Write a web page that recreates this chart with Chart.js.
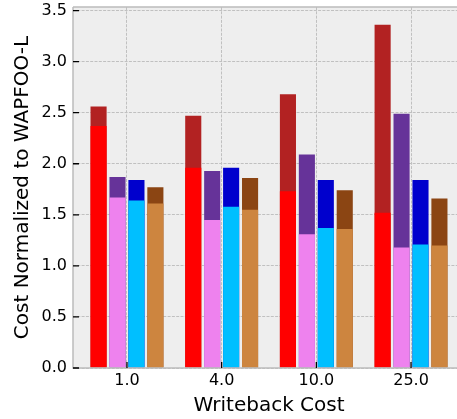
<!DOCTYPE html>
<html lang="en">
<head>
    <meta charset="UTF-8">
    <title>Writeback Cost</title>
    <script src="https://cdn.jsdelivr.net/npm/chart.js"></script>
    <style>
        body { margin: 0; background: #ffffff; }
        #wrap { width: 457px; height: 419px; overflow: hidden; }
    </style>
</head>
<body>
    <div id="wrap">
        <canvas id="costChart" width="465" height="419"></canvas>
    </div>

    <script>
    // Writeback cost categories (x tick labels)
    const xLabels = ['1.0', '4.0', '10.0', '25.0'];
    const yTicks = [0, 0.5, 1.0, 1.5, 2.0, 2.5, 3.0, 3.5];

    // tall (dark) bars and the lighter bar drawn in front of each
    const s1High = [2.56, 2.47, 2.68, 3.36];
    const s1Low  = [2.37, 1.96, 1.73, 1.52];
    const s2High = [1.87, 1.93, 2.09, 2.49];
    const s2Low  = [1.67, 1.45, 1.31, 1.18];
    const s3High = [1.84, 1.96, 1.84, 1.84];
    const s3Low  = [1.64, 1.58, 1.37, 1.21];
    const s4High = [1.77, 1.86, 1.74, 1.66];
    const s4Low  = [1.61, 1.55, 1.36, 1.20];

    const font = 'DejaVu Sans';

    function pts(vals) {
        return vals.map((v, i) => ({ x: i, y: v }));
    }

    function ds(vals, color, stack, order) {
        return {
            data: pts(vals),
            backgroundColor: color,
            borderWidth: 0,
            inflateAmount: 0,
            stack: stack,
            order: order,
            categoryPercentage: 0.8,
            barPercentage: 0.85
        };
    }

    // axes background, spines and inward tick marks
    const axesDecor = {
        id: 'axesDecor',
        beforeDraw(chart) {
            const { ctx, chartArea: a } = chart;
            ctx.save();
            ctx.fillStyle = '#eeeeee';
            ctx.fillRect(a.left, a.top, a.right - a.left, a.bottom - a.top);
            ctx.restore();
        },
        afterDatasetsDraw(chart) {
            const { ctx, chartArea: a, scales } = chart;
            ctx.save();
            ctx.strokeStyle = '#bcbcbc';
            ctx.lineWidth = 1.5;
            ctx.beginPath();
            ctx.moveTo(a.left, a.top);
            ctx.lineTo(a.right, a.top);
            ctx.moveTo(a.left, a.top);
            ctx.lineTo(a.left, a.bottom);
            ctx.lineTo(a.right, a.bottom);
            ctx.stroke();

            ctx.strokeStyle = '#000000';
            ctx.lineWidth = 1.3;
            ctx.beginPath();
            yTicks.forEach(v => {
                const y = scales.y.getPixelForValue(v);
                ctx.moveTo(a.left, y);
                ctx.lineTo(a.left + 6, y);
            });
            xLabels.forEach((_, i) => {
                const x = scales.x.getPixelForValue(i);
                ctx.moveTo(x, a.bottom);
                ctx.lineTo(x, a.bottom - 6);
            });
            ctx.stroke();
            ctx.restore();
        }
    };

    const gridStyle = {
        color: '#c0c0c0',
        lineWidth: 1,
        drawTicks: false,
        offset: false
    };

    new Chart(document.getElementById('costChart'), {
        type: 'bar',
        data: {
            datasets: [
                ds(s1Low, '#ff0000', 'a', 0),
                ds(s2Low, '#ee82ee', 'b', 0),
                ds(s3Low, '#00bfff', 'c', 0),
                ds(s4Low, '#cd853f', 'd', 0),
                ds(s1High, '#b22222', 'a', 1),
                ds(s2High, '#663399', 'b', 1),
                ds(s3High, '#0000cd', 'c', 1),
                ds(s4High, '#8b4513', 'd', 1)
            ]
        },
        options: {
            responsive: false,
            animation: false,
            layout: { padding: { top: 7, right: 0, left: 0, bottom: 0 } },
            plugins: {
                legend: { display: false },
                tooltip: { enabled: false }
            },
            scales: {
                x: {
                    type: 'linear',
                    stacked: true,
                    offset: false,
                    min: -0.57,
                    max: 3.57,
                    afterBuildTicks: s => { s.ticks = xLabels.map((_, i) => ({ value: i })); },
                    afterFit: s => { s.height = 51; s.paddingLeft = 0; s.paddingRight = 0; },
                    grid: gridStyle,
                    border: { display: false, dash: [3, 1.3] },
                    ticks: {
                        padding: 3,
                        color: '#000000',
                        font: { family: font, size: 16 },
                        callback: v => xLabels[v]
                    },
                    title: {
                        display: true,
                        text: 'Writeback Cost',
                        color: '#000000',
                        font: { family: font, size: 20 },
                        padding: { top: 0, bottom: 1.5 }
                    }
                },
                y: {
                    stacked: false,
                    min: 0,
                    max: 3.535,
                    afterBuildTicks: s => { s.ticks = yTicks.map(v => ({ value: v })); },
                    afterFit: s => { s.width = 73; s.paddingTop = 0; s.paddingBottom = 0; },
                    grid: gridStyle,
                    border: { display: false, dash: [3, 1.3] },
                    ticks: {
                        padding: 6,
                        color: '#000000',
                        font: { family: font, size: 16 },
                        callback: v => v.toFixed(1)
                    },
                    title: {
                        display: true,
                        text: 'Cost Normalized to WAPFOO-L',
                        color: '#000000',
                        font: { family: font, size: 20 },
                        padding: { top: 11, bottom: 0 }
                    }
                }
            }
        },
        plugins: [axesDecor]
    });
    </script>
</body>
</html>
